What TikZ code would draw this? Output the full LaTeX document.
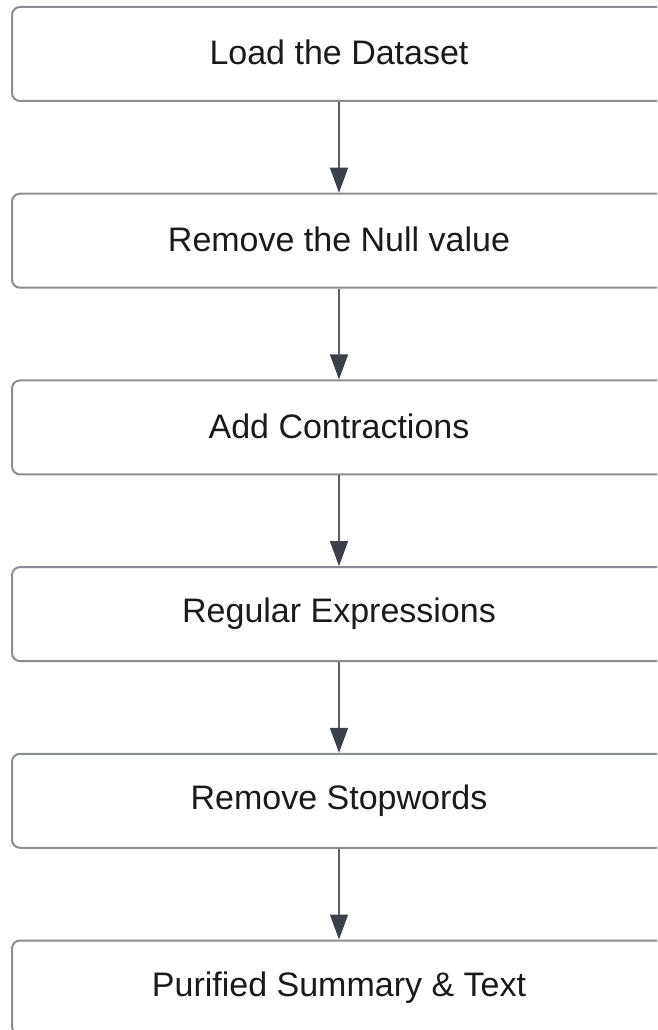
\documentclass[tikz,border=0pt]{standalone}
\usepackage{fontspec}
\setmainfont{Liberation Sans}
\usetikzlibrary{arrows.meta}
\definecolor{boxline}{HTML}{8A8D94}
\definecolor{linkline}{HTML}{5A5E66}
\definecolor{tipfill}{HTML}{3B4049}
\definecolor{labeltext}{HTML}{1A1A1A}
\tikzset{
  stepbox/.style={draw=boxline, line width=2pt, rounded corners=8pt,
    minimum width=654pt, minimum height=94pt, inner sep=0pt,
    text=labeltext, font=\fontsize{34}{40}\selectfont, anchor=north},
  link/.style={draw=linkline, line width=1.6pt,
    -{Triangle[length=25pt, width=18pt, fill=tipfill, color=tipfill]}},
}
\newcommand{\steplabel}[1]{\raisebox{3pt}{#1}}
\begin{document}
\begin{tikzpicture}[x=1pt, y=-1pt]
  \useasboundingbox (0,0) rectangle (657,1030);
  \clip (0,0) rectangle (657,1030);
  % process steps, top to bottom
  \node[stepbox] (b1) at (339,6)     {\steplabel{Load the Dataset}};
  \node[stepbox] (b2) at (339,192.7) {\steplabel{Remove the Null value}};
  \node[stepbox] (b3) at (339,379.4) {\steplabel{Add Contractions}};
  \node[stepbox] (b4) at (339,566.1) {\steplabel{Regular Expressions}};
  \node[stepbox] (b5) at (339,752.8) {\steplabel{Remove Stopwords}};
  \node[stepbox] (b6) at (339,939.5) {\steplabel{Purified Summary \& Text}};
  % connectors between consecutive steps
  \draw[link] (b1.south) -- (b2.north);
  \draw[link] (b2.south) -- (b3.north);
  \draw[link] (b3.south) -- (b4.north);
  \draw[link] (b4.south) -- (b5.north);
  \draw[link] (b5.south) -- (b6.north);
\end{tikzpicture}
\end{document}
